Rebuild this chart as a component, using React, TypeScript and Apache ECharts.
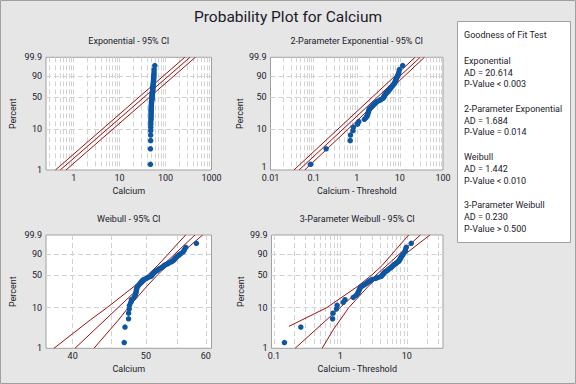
import { useEffect, useRef } from "react";
import * as echarts from "echarts";

// ---- data ----
const calcium = [
  46.8, 46.91, 47.42, 47.43, 47.53, 47.55, 47.76, 47.83, 48.22, 48.38,
  48.48, 48.53, 48.58, 48.62, 48.68, 48.85, 49.0, 49.15, 49.3, 49.46,
  49.63, 50.05, 50.35, 50.75, 50.9, 51.0, 51.12, 51.3, 51.42, 51.7,
  51.9, 52.1, 52.4, 52.6, 52.8, 53.0, 53.4, 53.6, 54.0, 54.25,
  54.45, 54.6, 54.8, 55.0, 55.3, 55.6, 56.0, 56.2, 56.45, 58.3,
];
// plotted percent (median rank) of each sorted point
const percentRank = [
  1.39, 3.37, 5.36, 7.34, 9.33, 11.31, 13.29, 15.28, 17.26, 19.25,
  21.23, 23.21, 25.2, 27.18, 29.17, 31.15, 33.13, 35.12, 37.1, 39.09,
  41.07, 43.06, 45.04, 47.02, 49.01, 50.99, 52.98, 54.96, 56.94, 58.93,
  60.91, 62.9, 64.88, 66.87, 68.85, 70.83, 72.82, 74.8, 76.79, 78.77,
  80.75, 82.74, 84.72, 86.71, 88.69, 90.67, 92.66, 94.64, 96.63, 98.61,
];
const threshold2PExp = 46.715;
const threshold3PWeibull = 46.656;

const percentTickLabels = [1, 10, 50, 90, 99.9];
const percentGridValues = [10, 50, 90];

const expTickLabels = [1, 10, 100, 1000];
const exp2TickLabels = [0.01, 0.1, 1, 10, 100];
const weibullTickLabels = [40, 50, 60];
const weibull3TickLabels = [0.1, 1, 10];
const weibullGridValues = [40, 45, 50, 55, 60];

// fitted line and 95% CI bounds: [x, percent]
const expFit = [[0.51, 1], [340, 99.9]];
const expCiLow = [[0.4, 1], [262, 99.9]];
const expCiHigh = [[0.68, 1], [445, 99.9]];

const exp2Fit = [[0.046, 1], [29.5, 99.9]];
const exp2CiLow = [[0.035, 1], [22.5, 99.9]];
const exp2CiHigh = [[0.062, 1], [37, 99.9]];

const weibullFit = [[40.28, 1], [58.05, 99.9]];
const weibullCiLow = [
  [37.78, 1], [42.19, 5], [44.43, 10], [48.23, 30], [50.28, 50],
  [51.85, 70], [53.51, 90], [55.31, 99], [56.43, 99.9],
];
const weibullCiHigh = [
  [42.68, 1], [45.98, 5], [47.38, 10], [50.13, 30], [51.8, 50],
  [53.39, 70], [55.56, 90], [57.96, 99], [59.43, 99.9],
];

const weibull3Fit = [[0.2085, 1], [15.98, 99.9]];
const weibull3CiLow = [
  [0.1687, 3.5], [0.627, 10], [1.816, 30], [2.99, 50], [4.27, 70],
  [5.98, 90], [10.64, 99.9],
];
const weibull3CiHigh = [
  [0.531, 1], [0.792, 3], [1.34, 10], [2.62, 30], [3.99, 50], [5.82, 70],
  [9.48, 90], [22.2, 99.9],
];

const gofTitle = "Goodness of Fit Test";
const gofNames = ["Exponential", "2-Parameter Exponential", "Weibull", "3-Parameter Weibull"];
const gofAD = ["AD = 20.614", "AD = 1.684", "AD = 1.442", "AD = 0.230"];
const gofP = ["P-Value < 0.003", "P-Value = 0.014", "P-Value < 0.010", "P-Value > 0.500"];

// ---- styling ----
const FONT = "Roboto, 'Liberation Sans', sans-serif";
const TEXT = "#1a1a2a";
const GRID = "#d2d2d2";
const BORDER = "#a0a0a0";
const BLUE = "#0b57a4";
const RED = "#9a1010";

const wb = (p: number) => Math.log10(-Math.log(1 - p / 100));
const lg = (v: number) => Math.log10(v);

function logGridValues(min: number, max: number) {
  const out: number[] = [];
  for (let e = -3; e <= 4; e++) {
    for (let m = 1; m <= 9; m++) {
      const v = m * Math.pow(10, e);
      if (v > min * 1.001 && v < max * 0.999) out.push(v);
    }
  }
  return out;
}

function nearest(v: number, list: number[], f: (x: number) => number) {
  let best = list[0];
  let bd = Infinity;
  for (const l of list) {
    const d = Math.abs(f(l) - v);
    if (d < bd) {
      bd = d;
      best = l;
    }
  }
  return String(best);
}

type Panel = {
  title: string;
  xName: string;
  left: number;
  top: number;
  width: number;
  height: number;
  xMin: number;
  xMax: number;
  xTicks: number[];
  xGrid: number[];
  shift: number;
  lines: number[][][];
  yNameGap: number;
  liftBottomLabel: boolean;
};

const panels: Panel[] = [
  {
    title: "Exponential - 95% CI", xName: "Calcium",
    left: 46, top: 57.3, width: 165.5, height: 112.7,
    xMin: 0.25, xMax: 1000, xTicks: expTickLabels, xGrid: logGridValues(0.25, 1000),
    shift: 0, lines: [expCiLow, expFit, expCiHigh], yNameGap: 29, liftBottomLabel: false,
  },
  {
    title: "2-Parameter Exponential - 95% CI", xName: "Calcium - Threshold",
    left: 270.5, top: 57.3, width: 172.5, height: 112.7,
    xMin: 0.01, xMax: 100, xTicks: exp2TickLabels, xGrid: logGridValues(0.01, 100),
    shift: threshold2PExp, lines: [exp2CiLow, exp2Fit, exp2CiHigh], yNameGap: 26, liftBottomLabel: true,
  },
  {
    title: "Weibull - 95% CI", xName: "Calcium",
    left: 46, top: 235, width: 165.5, height: 113.3,
    xMin: 36.88, xMax: 61.05, xTicks: weibullTickLabels, xGrid: weibullGridValues,
    shift: 0, lines: [weibullCiLow, weibullFit, weibullCiHigh], yNameGap: 29, liftBottomLabel: false,
  },
  {
    title: "3-Parameter Weibull - 95% CI", xName: "Calcium - Threshold",
    left: 271.5, top: 235, width: 171.5, height: 113.3,
    xMin: 0.092, xMax: 35, xTicks: weibull3TickLabels, xGrid: logGridValues(0.092, 35),
    shift: threshold3PWeibull, lines: [weibull3CiLow, weibull3Fit, weibull3CiHigh], yNameGap: 26, liftBottomLabel: false,
  },
];

function buildOption() {
  const grid: any[] = [];
  const xAxis: any[] = [];
  const yAxis: any[] = [];
  const series: any[] = [];
  const elements: any[] = [];

  panels.forEach((p, k) => {
    grid.push({
      left: p.left, top: p.top, width: p.width, height: p.height,
      show: true, backgroundColor: "#ffffff", borderColor: BORDER, borderWidth: 1,
      containLabel: false, outerBoundsMode: "none",
    });
    xAxis.push({
      type: "value", gridIndex: k, min: lg(p.xMin), max: lg(p.xMax),
      axisLine: { show: false },
      axisTick: { show: false, customValues: p.xGrid.map(lg) },
      axisLabel: {
        customValues: p.xTicks.map(lg),
        formatter: (v: number) => nearest(v, p.xTicks, lg),
        fontSize: 9, lineHeight: 8, fontFamily: FONT, color: TEXT, margin: 4,
      },
      splitLine: { show: true, lineStyle: { color: GRID, width: 1, type: [5, 3] } },
      name: p.xName, nameLocation: "middle", nameGap: 16,
      nameTextStyle: { fontSize: 9, fontFamily: FONT, color: TEXT },
    });
    yAxis.push({
      type: "value", gridIndex: k, min: wb(1), max: wb(99.9),
      axisLine: { show: false },
      axisTick: { show: false, customValues: percentGridValues.map(wb) },
      axisLabel: {
        customValues: percentTickLabels.map(wb),
        formatter: (v: number) => {
          const s = nearest(v, percentTickLabels, wb);
          return p.liftBottomLabel && s === "1" ? "{lift|1}" : s;
        },
        rich: {
          lift: { fontSize: 9, lineHeight: 8, fontFamily: FONT, color: TEXT, padding: [0, 0, 7, 0] },
        },
        fontSize: 9, lineHeight: 8, fontFamily: FONT, color: TEXT, margin: 4,
      },
      splitLine: { show: true, lineStyle: { color: GRID, width: 1, type: [5, 3] } },
      name: "Percent", nameLocation: "middle", nameRotate: 90, nameGap: p.yNameGap,
      nameTextStyle: { fontSize: 9, fontFamily: FONT, color: TEXT },
    });
    p.lines.forEach((ln) => {
      series.push({
        type: "line", xAxisIndex: k, yAxisIndex: k, silent: true,
        showSymbol: false, symbol: "none", clip: true, z: 2,
        lineStyle: { color: RED, width: 1 },
        data: ln.map(([x, pc]) => [lg(x), wb(pc)]),
      });
    });
    series.push({
      type: "scatter", xAxisIndex: k, yAxisIndex: k, silent: true, z: 3,
      symbol: "circle", symbolSize: 5.5,
      itemStyle: { color: BLUE, opacity: 1 },
      data: calcium.map((c, i) => [lg(c - p.shift), wb(percentRank[i])]),
    });
    elements.push({
      type: "text", x: p.left + p.width / 2, y: p.top - 16,
      style: {
        text: p.title, fill: TEXT, font: `9px ${FONT}`,
        align: "center", verticalAlign: "middle",
      },
    });
  });

  elements.push({
    type: "rect", shape: { x: 0.5, y: 0.5, width: 575, height: 383 },
    style: { fill: "none", stroke: BORDER, lineWidth: 1 }, z: -1,
  });
  elements.push({
    type: "text", x: 288, y: 17,
    style: {
      text: "Probability Plot for Calcium", fill: TEXT, font: `15.5px ${FONT}`,
      align: "center", verticalAlign: "middle",
    },
  });
  elements.push({
    type: "rect", shape: { x: 457.5, y: 21.5, width: 113, height: 221 },
    style: { fill: "#ffffff", stroke: BORDER, lineWidth: 1 },
  });
  elements.push({
    type: "text", x: 464, y: 35,
    style: { text: gofTitle, fill: TEXT, font: `9px ${FONT}`, align: "left", verticalAlign: "middle" },
  });
  gofNames.forEach((name, g) => {
    const y0 = 60.7 + g * 48.1;
    [name, gofAD[g], gofP[g]].forEach((t, j) => {
      elements.push({
        type: "text", x: 464, y: y0 + j * 11.8,
        style: { text: t, fill: TEXT, font: `9px ${FONT}`, align: "left", verticalAlign: "middle" },
      });
    });
  });

  return {
    animation: false,
    backgroundColor: "#e6e6e6",
    grid, xAxis, yAxis, series,
    graphic: { elements },
  };
}

export default function App() {
  const ref = useRef<HTMLDivElement>(null);
  useEffect(() => {
    if (!ref.current) return;
    const chart = echarts.init(ref.current, undefined, { renderer: "svg" });
    chart.setOption(buildOption() as any);
    return () => chart.dispose();
  }, []);
  return (
    <div
      ref={ref}
      style={{ position: "fixed", left: 0, top: 0, width: 576, height: 384 }}
    />
  );
}
